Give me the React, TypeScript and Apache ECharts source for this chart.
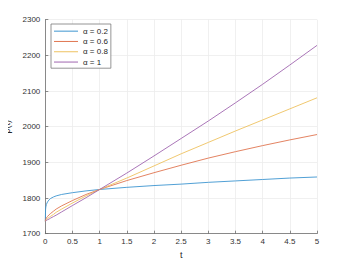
import React, { useEffect, useRef } from "react";
import * as echarts from "echarts";

const tValues = [0, 0.005, 0.01, 0.02, 0.04, 0.07, 0.1, 0.15, 0.2, 0.3, 0.5, 0.75, 1, 1.5, 2, 2.5, 3, 3.5, 4, 4.5, 5];
const alpha02 = [1735, 1768, 1775, 1782, 1789, 1795, 1799, 1803, 1806, 1810, 1815, 1820, 1824, 1830, 1835, 1839, 1844, 1848, 1852, 1856, 1859];
const alpha06 = [1735, 1739, 1741, 1744, 1748, 1753, 1757, 1763, 1769, 1778, 1793, 1810, 1824, 1849, 1871, 1892, 1912, 1930, 1947, 1963, 1978];
const alpha08 = [1735, 1736, 1737, 1739, 1742, 1746, 1749, 1754, 1760, 1769, 1786, 1806, 1824, 1856, 1890, 1924, 1956, 1988, 2019, 2050, 2081];
const alpha1 = [1735, 1735, 1736, 1737, 1739, 1741, 1744, 1748, 1752, 1761, 1779, 1801, 1824, 1870, 1918, 1967, 2016, 2067, 2119, 2173, 2228];
const seriesNames = ["\u03b1 = 0.2", "\u03b1 = 0.6", "\u03b1 = 0.8", "\u03b1 = 1"];
const seriesColors = ["#3d95d0", "#e07550", "#eec260", "#a066b0"];
const seriesValues = [alpha02, alpha06, alpha08, alpha1];

const FONT = "'Liberation Sans', Arial, sans-serif";

export default function App() {
  const ref = useRef<HTMLDivElement>(null);
  useEffect(() => {
    if (!ref.current) return;
    const chart = echarts.init(ref.current, undefined, { renderer: "svg" });
    chart.setOption({
      animation: false,
      backgroundColor: "#ffffff",
      textStyle: { fontFamily: FONT },
      grid: { left: 45.3, right: 33, top: 19.7, bottom: 29.3, outerBoundsMode: "none", containLabel: false },
      legend: {
        orient: "vertical",
        left: 51,
        top: 24,
        padding: [2, 3, 1, 3],
        itemWidth: 24,
        itemHeight: 10.3,
        itemGap: 0,
        icon: "path://M0,0H24V1H0Z",
        backgroundColor: "#ffffff",
        borderColor: "#7a7a7a",
        borderWidth: 0.8,
        borderRadius: 0,
        data: seriesNames,
        textStyle: { fontFamily: FONT, fontSize: 8, lineHeight: 10.3, color: "#262626" },
      },
      xAxis: {
        type: "value",
        min: 0,
        max: 5,
        interval: 0.5,
        name: "t",
        nameLocation: "middle",
        nameGap: 17,
        nameTextStyle: { fontFamily: FONT, fontSize: 9, color: "#262626" },
        axisLine: { show: true, onZero: false, lineStyle: { color: "#6e6e6e", width: 0.8 } },
        axisTick: { show: true, inside: true, length: 3, lineStyle: { color: "#6e6e6e", width: 0.8 } },
        axisLabel: { fontFamily: FONT, fontSize: 8, color: "#333333", margin: 4 },
        splitLine: { show: true, lineStyle: { color: "#ececec", width: 0.8 } },
      },
      yAxis: {
        type: "value",
        min: 1700,
        max: 2300,
        interval: 100,
        name: "p(t)",
        nameLocation: "middle",
        nameGap: 28,
        nameRotate: 90,
        nameTextStyle: { fontFamily: FONT, fontSize: 9, color: "#262626" },
        axisLine: { show: true, lineStyle: { color: "#6e6e6e", width: 0.8 } },
        axisTick: { show: true, inside: true, length: 3, lineStyle: { color: "#6e6e6e", width: 0.8 } },
        axisLabel: { fontFamily: FONT, fontSize: 8, color: "#333333", margin: 5, formatter: (v: number) => String(v) },
        splitLine: { show: true, lineStyle: { color: "#ececec", width: 0.8 } },
      },
      series: seriesNames.map((name, i) => ({
        name,
        type: "line",
        showSymbol: false,
        symbol: "none",
        smooth: false,
        data: tValues.map((t, j) => [t, seriesValues[i][j]]),
        lineStyle: { color: seriesColors[i], width: 0.9 },
        itemStyle: { color: seriesColors[i] },
      })),
    });
    return () => chart.dispose();
  }, []);
  return <div ref={ref} style={{ width: 350, height: 263, marginLeft: -8, marginTop: -8 }} />;
}
